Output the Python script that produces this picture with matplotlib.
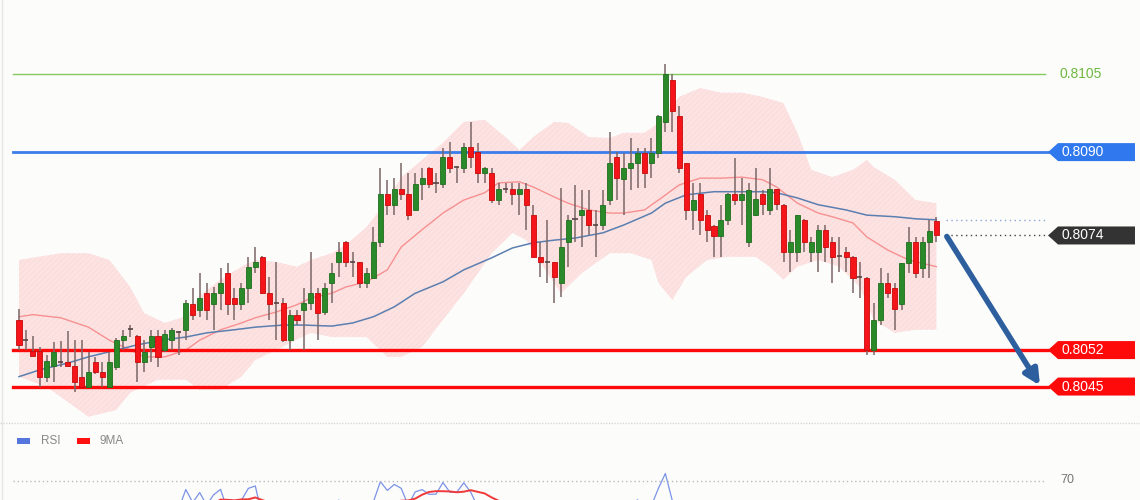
import numpy as np
import pandas as pd
import matplotlib
matplotlib.use("Agg")
import matplotlib.pyplot as plt
from matplotlib.patches import Polygon, Rectangle
from matplotlib.lines import Line2D
from matplotlib.transforms import IdentityTransform

plt.rcParams['font.family'] = ['Liberation Sans', 'DejaVu Sans']

# ---------------- data ----------------
opens = [0.80578, 0.80541, 0.80518, 0.80518, 0.80469, 0.80490, 0.80497, 0.80497, 0.80490, 0.80469,
         0.80449, 0.80497, 0.80478, 0.80449, 0.80488, 0.80540, 0.80559, 0.80547, 0.80497, 0.80526,
         0.80547, 0.80520, 0.80540, 0.80553, 0.80559, 0.80609, 0.80597, 0.80630, 0.80609, 0.80630,
         0.80668, 0.80620, 0.80609, 0.80639, 0.80680, 0.80699, 0.80630, 0.80609, 0.80611, 0.80540,
         0.80588, 0.80597, 0.80611, 0.80630, 0.80593, 0.80649, 0.80689, 0.80728, 0.80689, 0.80689,
         0.80649, 0.80659, 0.80728, 0.80820, 0.80799, 0.80829, 0.80820, 0.80789, 0.80839, 0.80870,
         0.80839, 0.80839, 0.80891, 0.80870, 0.80870, 0.80910, 0.80900, 0.80860, 0.80860, 0.80808,
         0.80829, 0.80829, 0.80820, 0.80829, 0.80779, 0.80699, 0.80689, 0.80689, 0.80649, 0.80728,
         0.80770, 0.80779, 0.80789, 0.80760, 0.80760, 0.80808, 0.80891, 0.80849, 0.80870, 0.80879,
         0.80898, 0.80879, 0.80898, 0.80958, 0.81039, 0.80969, 0.80879, 0.80789, 0.80820, 0.80779,
         0.80758, 0.80739, 0.80770, 0.80820, 0.80808, 0.80728, 0.80779, 0.80820, 0.80789, 0.80829,
         0.80799, 0.80708, 0.80708, 0.80770, 0.80708, 0.80708, 0.80751, 0.80728, 0.80699, 0.80708,
         0.80699, 0.80659, 0.80659, 0.80520, 0.80578, 0.80649, 0.80639, 0.80609, 0.80687, 0.80728,
         0.80678, 0.80728, 0.80768]
highs = [0.80599, 0.80559, 0.80547, 0.80526, 0.80511, 0.80536, 0.80538, 0.80557, 0.80540, 0.80540,
         0.80517, 0.80507, 0.80497, 0.80517, 0.80543, 0.80559, 0.80568, 0.80549, 0.80540, 0.80559,
         0.80559, 0.80559, 0.80563, 0.80557, 0.80616, 0.80639, 0.80668, 0.80649, 0.80641, 0.80678,
         0.80687, 0.80639, 0.80649, 0.80699, 0.80718, 0.80700, 0.80660, 0.80689, 0.80620, 0.80597,
         0.80597, 0.80639, 0.80708, 0.80639, 0.80649, 0.80687, 0.80728, 0.80729, 0.80708, 0.80690,
         0.80678, 0.80756, 0.80870, 0.80847, 0.80850, 0.80879, 0.80860, 0.80860, 0.80870, 0.80871,
         0.80860, 0.80908, 0.80920, 0.80872, 0.80918, 0.80958, 0.80918, 0.80871, 0.80870, 0.80841,
         0.80841, 0.80841, 0.80841, 0.80841, 0.80799, 0.80728, 0.80770, 0.80690, 0.80831, 0.80779,
         0.80837, 0.80827, 0.80827, 0.80789, 0.80827, 0.80939, 0.80900, 0.80898, 0.80927, 0.80908,
         0.80908, 0.80927, 0.80971, 0.81069, 0.81050, 0.80989, 0.80880, 0.80841, 0.80841, 0.80789,
         0.80760, 0.80799, 0.80821, 0.80889, 0.80850, 0.80841, 0.80870, 0.80827, 0.80870, 0.80830,
         0.80800, 0.80751, 0.80780, 0.80771, 0.80737, 0.80760, 0.80760, 0.80737, 0.80737, 0.80718,
         0.80700, 0.80689, 0.80660, 0.80611, 0.80678, 0.80668, 0.80649, 0.80688, 0.80756, 0.80737,
         0.80737, 0.80770, 0.80776]
lows = [0.80520, 0.80520, 0.80509, 0.80449, 0.80459, 0.80459, 0.80488, 0.80490, 0.80440, 0.80449,
        0.80449, 0.80474, 0.80449, 0.80449, 0.80482, 0.80520, 0.80545, 0.80459, 0.80478, 0.80497,
        0.80488, 0.80517, 0.80520, 0.80511, 0.80540, 0.80578, 0.80584, 0.80578, 0.80559, 0.80597,
        0.80588, 0.80578, 0.80597, 0.80611, 0.80668, 0.80628, 0.80578, 0.80540, 0.80536, 0.80520,
        0.80568, 0.80520, 0.80597, 0.80540, 0.80588, 0.80611, 0.80660, 0.80680, 0.80660, 0.80639,
        0.80639, 0.80658, 0.80718, 0.80779, 0.80779, 0.80808, 0.80770, 0.80788, 0.80808, 0.80831,
        0.80822, 0.80831, 0.80860, 0.80841, 0.80860, 0.80870, 0.80841, 0.80841, 0.80802, 0.80799,
        0.80822, 0.80799, 0.80779, 0.80751, 0.80698, 0.80660, 0.80649, 0.80611, 0.80622, 0.80680,
        0.80728, 0.80718, 0.80741, 0.80699, 0.80751, 0.80799, 0.80808, 0.80779, 0.80827, 0.80831,
        0.80831, 0.80850, 0.80889, 0.80939, 0.80939, 0.80860, 0.80770, 0.80751, 0.80741, 0.80728,
        0.80699, 0.80699, 0.80760, 0.80799, 0.80760, 0.80718, 0.80778, 0.80779, 0.80779, 0.80789,
        0.80689, 0.80670, 0.80689, 0.80708, 0.80689, 0.80670, 0.80689, 0.80649, 0.80670, 0.80670,
        0.80630, 0.80620, 0.80511, 0.80511, 0.80568, 0.80620, 0.80559, 0.80597, 0.80668, 0.80659,
        0.80659, 0.80659, 0.80728]
closes = [0.80530, 0.80540, 0.80509, 0.80469, 0.80499, 0.80517, 0.80498, 0.80490, 0.80459, 0.80449,
          0.80478, 0.80478, 0.80469, 0.80497, 0.80540, 0.80547, 0.80560, 0.80497, 0.80517, 0.80547,
          0.80507, 0.80551, 0.80559, 0.80554, 0.80611, 0.80588, 0.80620, 0.80597, 0.80630, 0.80649,
          0.80609, 0.80609, 0.80639, 0.80680, 0.80689, 0.80630, 0.80609, 0.80610, 0.80540, 0.80588,
          0.80578, 0.80611, 0.80630, 0.80591, 0.80639, 0.80668, 0.80708, 0.80689, 0.80690, 0.80649,
          0.80668, 0.80728, 0.80820, 0.80799, 0.80829, 0.80820, 0.80779, 0.80839, 0.80850, 0.80839,
          0.80840, 0.80891, 0.80870, 0.80871, 0.80910, 0.80891, 0.80860, 0.80870, 0.80808, 0.80829,
          0.80830, 0.80820, 0.80829, 0.80799, 0.80699, 0.80689, 0.80690, 0.80660, 0.80718, 0.80770,
          0.80771, 0.80789, 0.80760, 0.80761, 0.80799, 0.80879, 0.80850, 0.80870, 0.80879, 0.80898,
          0.80860, 0.80898, 0.80969, 0.81050, 0.80979, 0.80870, 0.80789, 0.80808, 0.80770, 0.80751,
          0.80739, 0.80770, 0.80820, 0.80808, 0.80820, 0.80827, 0.80810, 0.80801, 0.80829, 0.80801,
          0.80708, 0.80728, 0.80779, 0.80728, 0.80728, 0.80751, 0.80718, 0.80699, 0.80700, 0.80699,
          0.80659, 0.80660, 0.80520, 0.80578, 0.80649, 0.80630, 0.80599, 0.80687, 0.80728, 0.80668,
          0.80728, 0.80749, 0.80740]

# Bollinger band edges (bar index, price)
bb_up_idx = [0, 6, 10, 13, 16, 18, 21, 24, 26, 29, 32, 34, 37, 40, 42, 45, 47, 50, 53, 55,
             58, 61, 64, 67, 70, 72, 74, 77, 79, 82, 85, 87, 90, 92, 95, 98, 101, 104, 107, 110,
             112, 114, 117, 120, 122, 123, 126, 129, 132]
bb_upper = [0.80693, 0.80706, 0.80706, 0.80693, 0.80641, 0.80591, 0.80572, 0.80585, 0.80625, 0.80655,
            0.80680, 0.80693, 0.80689, 0.80680, 0.80693, 0.80706, 0.80722, 0.80756, 0.80808, 0.80852,
            0.80885, 0.80918, 0.80958, 0.80962, 0.80929, 0.80904, 0.80929, 0.80958, 0.80956, 0.80929,
            0.80927, 0.80937, 0.80937, 0.80956, 0.81006, 0.81023, 0.81014, 0.81014, 0.81006, 0.80994,
            0.80937, 0.80866, 0.80852, 0.80866, 0.80885, 0.80871, 0.80847, 0.80808, 0.80802]
bb_lo_idx = [0, 4, 8, 10, 14, 16, 20, 24, 26, 29, 32, 34, 37, 40, 42, 45, 47, 50, 53, 55,
             58, 61, 64, 68, 71, 73, 76, 78, 81, 85, 88, 91, 92, 94, 96, 99, 102, 106, 108, 110,
             112, 115, 118, 121, 123, 126, 129, 132]
bb_lower = [0.80469, 0.80449, 0.80411, 0.80392, 0.80405, 0.80438, 0.80463, 0.80463, 0.80444, 0.80444,
            0.80469, 0.80501, 0.80520, 0.80540, 0.80553, 0.80545, 0.80545, 0.80545, 0.80507, 0.80507,
            0.80526, 0.80578, 0.80629, 0.80706, 0.80745, 0.80731, 0.80668, 0.80629, 0.80668, 0.80706,
            0.80706, 0.80693, 0.80649, 0.80616, 0.80660, 0.80693, 0.80699, 0.80699, 0.80680, 0.80655,
            0.80680, 0.80693, 0.80680, 0.80641, 0.80578, 0.80553, 0.80559, 0.80559]

# moving averages
ma_fast_idx = [0, 2, 6, 10, 13, 16, 18, 21, 24, 26, 29, 32, 34, 37, 40, 42, 45, 47, 50, 53,
               55, 58, 61, 64, 67, 69, 72, 74, 77, 79, 82, 85, 87, 90, 92, 95, 98, 101, 104, 107,
               109, 112, 115, 117, 120, 122, 125, 128, 132]
ma_fast = [0.80584, 0.80588, 0.80582, 0.80564, 0.80539, 0.80520, 0.80507, 0.80507, 0.80520, 0.80539,
           0.80559, 0.80572, 0.80582, 0.80593, 0.80607, 0.80620, 0.80629, 0.80641, 0.80651, 0.80674,
           0.80718, 0.80751, 0.80783, 0.80808, 0.80822, 0.80841, 0.80843, 0.80833, 0.80814, 0.80802,
           0.80789, 0.80783, 0.80783, 0.80789, 0.80808, 0.80837, 0.80850, 0.80850, 0.80852, 0.80847,
           0.80833, 0.80802, 0.80783, 0.80776, 0.80764, 0.80737, 0.80712, 0.80693, 0.80680]
ma_slow_idx = [0, 3, 7, 10, 14, 17, 21, 24, 27, 31, 34, 38, 41, 45, 48, 51, 54, 57, 61, 64,
               68, 71, 74, 77, 80, 84, 87, 91, 93, 96, 100, 103, 107, 109, 112, 115, 119, 122, 126, 129,
               132]
ma_slow = [0.80469, 0.80482, 0.80495, 0.80507, 0.80520, 0.80530, 0.80540, 0.80545, 0.80553, 0.80559,
           0.80564, 0.80568, 0.80568, 0.80566, 0.80572, 0.80584, 0.80603, 0.80629, 0.80651, 0.80674,
           0.80697, 0.80716, 0.80726, 0.80731, 0.80735, 0.80745, 0.80760, 0.80783, 0.80802, 0.80818,
           0.80824, 0.80824, 0.80824, 0.80822, 0.80812, 0.80799, 0.80789, 0.80779, 0.80776, 0.80772,
           0.80770]

level_prices = [0.8105, 0.8090, 0.8052, 0.8045]
level_colors = ['#86c95f', '#3b7dea', '#ff0a0a', '#ff0a0a']
last_label = 0.8074
rsi_period = 14
rsi_ma_period = 9
rsi_warmup = 20

# ---------------- figure ----------------
W, H = 1140, 500
fig = plt.figure(figsize=(W / 100, H / 100), dpi=100)
bg = '#fcfcfb'
fig.patch.set_facecolor(bg)

top_h = 423
ax = fig.add_axes([0, (H - top_h) / H, 1, top_h / H])
ax.set_facecolor(bg)
for s in ax.spines.values():
    s.set_visible(False)
ax.set_xticks([]); ax.set_yticks([])

step = 6.95
x0 = 19
ax.set_xlim(-x0 / step, (W - x0) / step)
ax.set_ylim(0.80380, 0.81192)

o = np.array(opens); h = np.array(highs); l = np.array(lows); c = np.array(closes)
idx = np.arange(len(o))

# Bollinger band
bx = np.concatenate([bb_up_idx, bb_lo_idx[::-1]])
by = np.concatenate([bb_upper, bb_lower[::-1]])
ax.fill(bx, by, facecolor='#fde2e2', edgecolor='none', zorder=1)
plt.rcParams['hatch.linewidth'] = 0.35
ax.fill(bx, by, facecolor='none', edgecolor='#f8d6d6', hatch='//////', linewidth=0, zorder=1.1)

# moving averages
ax.plot(ma_fast_idx, ma_fast, color='#f79090', lw=1.0, zorder=2)
ax.plot(ma_slow_idx, ma_slow, color='#5a7fb0', lw=1.1, zorder=2)

# level lines
xmin_f = 13 / W
xmax_f = 1048 / W
ax.axhline(level_prices[0], xmin=xmin_f, xmax=1045 / W, color=level_colors[0], lw=1.0, zorder=3)
ax.axhline(level_prices[1], xmin=xmin_f, xmax=xmax_f, color=level_colors[1], lw=2.0, zorder=3)
ax.axhline(level_prices[2], xmin=xmin_f, xmax=xmax_f, color=level_colors[2], lw=2.4, zorder=3)
ax.axhline(level_prices[3], xmin=xmin_f, xmax=xmax_f, color=level_colors[3], lw=2.4, zorder=3)

# candles
wick_col = '#7a6666'
ax.vlines(idx, l, h, color=wick_col, lw=1.1, zorder=4)
diff = c - o
up = diff > 0.000015
dn = diff < -0.000015
dj = ~(up | dn)
bw = 0.72
ax.bar(idx[up], diff[up], bottom=o[up], width=bw, color='#2a8a2a', edgecolor='#1f6e1f', lw=0.6, zorder=5)
ax.bar(idx[dn], -diff[dn], bottom=c[dn], width=bw, color='#f4141a', edgecolor='#c40a0a', lw=0.6, zorder=5)
ax.hlines(c[dj], idx[dj] - bw / 2, idx[dj] + bw / 2, color='#554444', lw=1.2, zorder=5)

# dotted lines from last bar
ax.axhline(ma_slow[-1], xmin=946 / W, xmax=1048 / W, color='#8aa6d6', lw=1.0, ls=(0, (1, 2.5)), zorder=3)
ax.axhline(last_label, xmin=946 / W, xmax=1048 / W, color='#444444', lw=1.0, ls=(0, (1, 2.5)), zorder=3)

# projection arrow
ax.annotate('', xy=(146.9, 0.80452), xytext=(133.5, 0.80738),
            arrowprops=dict(arrowstyle='-|>,head_length=0.9,head_width=0.45', color='#2d5f9f',
                            lw=4, shrinkA=0, shrinkB=0), zorder=6)

# price labels
fig.canvas.draw()

def ypix(price):
    return ax.transData.transform((0, price))[1]

yy = ypix(level_prices[0])
fig.text(1060 / W, yy / H, '0.8105', color='#6fb83f', fontsize=10, va='center', ha='left')

def tag(price, color, text):
    y = ypix(price)
    hh = 9
    poly = Polygon([(1048, y), (1058, y + hh), (1135, y + hh), (1135, y - hh), (1058, y - hh)],
                   closed=True, transform=IdentityTransform(), facecolor=color, edgecolor='none')
    fig.add_artist(poly)
    fig.text(1061 / W, y / H, text, color='white', fontsize=10, va='center', ha='left')

tag(level_prices[1], '#2f78ee', '0.8090')
tag(last_label, '#333333', '0.8074')
tag(level_prices[2], '#ff0a0a', '0.8052')
tag(level_prices[3], '#ff0a0a', '0.8045')

# separator
fig.add_artist(Line2D([0, 1], [(H - top_h) / H] * 2, transform=fig.transFigure,
                      color='#d8d8d8', lw=1, ls=(0, (1, 1))))
fig.add_artist(Line2D([1.5 / W, 1.5 / W], [0, 1], transform=fig.transFigure, color='#e6e6e6', lw=1))

# ---------------- RSI panel ----------------
ax2 = fig.add_axes([0, 0, 1, (H - top_h) / H])
ax2.set_facecolor(bg)
ax2.patch.set_alpha(0)
for s in ax2.spines.values():
    s.set_visible(False)
ax2.set_xticks([]); ax2.set_yticks([])
ax2.set_xlim(ax.get_xlim())
k = 2.8
ax2.set_ylim(70 - 19 / k, 70 + 58 / k)

cs = pd.Series(closes)
delta = cs.diff()
gain = delta.clip(lower=0).ewm(alpha=1 / rsi_period, adjust=False).mean()
loss = (-delta.clip(upper=0)).ewm(alpha=1 / rsi_period, adjust=False).mean()
rsi = 100 - 100 / (1 + gain / loss)
rsi[:rsi_warmup] = np.nan
rsi_ma = rsi.rolling(rsi_ma_period).mean()
ax2.plot(idx, rsi.values, color='#7b93e8', lw=0.9)
ax2.plot(idx, rsi_ma.values, color='#f03a3a', lw=1.4)
ax2.axhline(70, xmin=13 / W, xmax=1045 / W, color='#bbbbbb', lw=1, ls=(0, (1, 2)))
fig.text(1060 / W, (H - 480) / H, '70', color='#777777', fontsize=9, va='center')

# legend
fig.add_artist(Rectangle((17, H - 444), 13, 6, transform=IdentityTransform(), facecolor='#5577dd', edgecolor='none'))
fig.text(41 / W, (H - 441) / H, 'RSI', color='#888888', fontsize=8.5, va='center')
fig.add_artist(Rectangle((77, H - 444), 13, 6, transform=IdentityTransform(), facecolor='#ff1111', edgecolor='none'))
fig.text(100 / W, (H - 441) / H, '9MA', color='#888888', fontsize=8.5, va='center')

fig.savefig('out.png', dpi=100, facecolor=bg)
